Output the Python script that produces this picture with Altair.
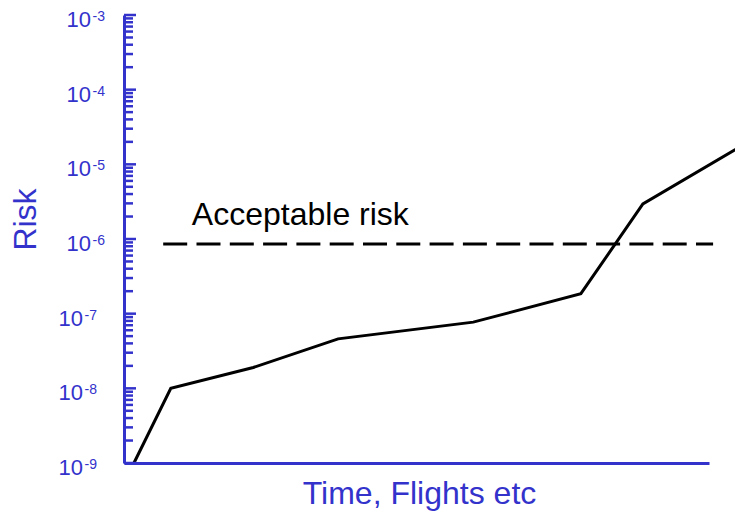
import altair as alt
import pandas as pd

# ---------------- data ----------------
curve_x = [1.7, 8.0, 22.1, 36.6, 59.7, 78.1, 88.7, 107.0]
curve_risk = [1e-9, 1e-8, 1.9e-8, 4.6e-8, 7.7e-8, 1.85e-7, 2.95e-6, 2.05e-5]

accept_x = [6.7, 100.7]
accept_risk = [8.6e-7, 8.6e-7]
accept_label = ["Acceptable risk"]
accept_label_x = [11.6]
accept_label_risk = [1.54e-6]

decade_exponents = [-3, -4, -5, -6, -7, -8, -9]
minor_multipliers = [2, 3, 4, 5, 6, 7, 8, 9]

x_title = "Time, Flights etc"
y_title = "Risk"

BLUE = "#3333CC"
FONT = "Liberation Sans"

# ---------------- tables ----------------
curve_df = pd.DataFrame({"x": curve_x, "risk": curve_risk})
accept_df = pd.DataFrame({"x": accept_x, "risk": accept_risk})
label_df = pd.DataFrame({"x": accept_label_x, "risk": accept_label_risk, "label": accept_label})
major_df = pd.DataFrame({"e": decade_exponents})
major_df["risk"] = [10.0 ** e for e in decade_exponents]
major_df["base"] = "10"
major_df["exp"] = [str(e) for e in decade_exponents]
minor_df = pd.DataFrame({"risk": [m * 10.0 ** e for e in decade_exponents if e < -3 for m in minor_multipliers]})

xscale = alt.Scale(domain=[0, 100], nice=False, zero=False)
yscale = alt.Scale(type="log", domain=[1e-9, 1e-3], nice=False)

x_axis = alt.Axis(
    title=x_title, domainColor=BLUE, domainWidth=3, ticks=False, labels=False, grid=False,
    titleColor=BLUE, titleFont=FONT, titleFontSize=32, titleFontWeight="normal",
    titleX=295, titleY=40, titleBaseline="alphabetic")
y_axis = alt.Axis(
    title=y_title, domainColor=BLUE, domainWidth=3, ticks=False, labels=False, grid=False,
    titleColor=BLUE, titleFont=FONT, titleFontSize=32, titleFontWeight="normal",
    titleAngle=-90, titleX=-99, titleY=204, titleAlign="center", titleBaseline="middle")

X = alt.X("x:Q", scale=xscale, axis=x_axis, title=x_title)
Y = alt.Y("risk:Q", scale=yscale, axis=y_axis, title=y_title)

line = alt.Chart(curve_df).mark_line(color="black", strokeWidth=3).encode(x=X, y=Y)

accept = alt.Chart(accept_df).mark_line(
    color="black", strokeWidth=3, strokeDash=[24, 9.3]
).encode(x=X, y=Y)

accept_text = alt.Chart(label_df).mark_text(
    align="left", baseline="alphabetic", font=FONT, fontSize=32, color="black"
).encode(x=X, y=Y, text="label:N")

minor_ticks = alt.Chart(minor_df).mark_rule(color=BLUE, strokeWidth=2.5).encode(
    y=Y, x=alt.value(0), x2=alt.value(9),
)

major_ticks = alt.Chart(major_df).mark_rule(color=BLUE, strokeWidth=2.5).encode(
    y=Y, x=alt.value(0), x2=alt.value(12),
)


def tick_labels(cond, shift):
    base = alt.Chart(major_df).transform_filter(cond)
    b = base.mark_text(align="right", baseline="alphabetic", font=FONT, fontSize=22,
                       color=BLUE, dx=shift, dy=12).encode(y=Y, x=alt.value(0), text="base:N")
    e = base.mark_text(align="left", baseline="alphabetic", font=FONT, fontSize=14,
                       color=BLUE, dx=shift + 1.5, dy=6).encode(y=Y, x=alt.value(0), text="exp:N")
    return [b, e]


labels = tick_labels("datum.e > -7", -33) + tick_labels("datum.e <= -7", -41)

chart = alt.layer(
    line, accept, accept_text, minor_ticks, major_ticks, *labels
).properties(
    width=585,
    height=448,
    autosize=alt.AutoSizeParams(type="none"),
    padding={"left": 116, "top": 7, "right": 26, "bottom": 50},
).configure_view(stroke=None)

chart.save("out.html", embed_options={"renderer": "svg", "actions": False})
